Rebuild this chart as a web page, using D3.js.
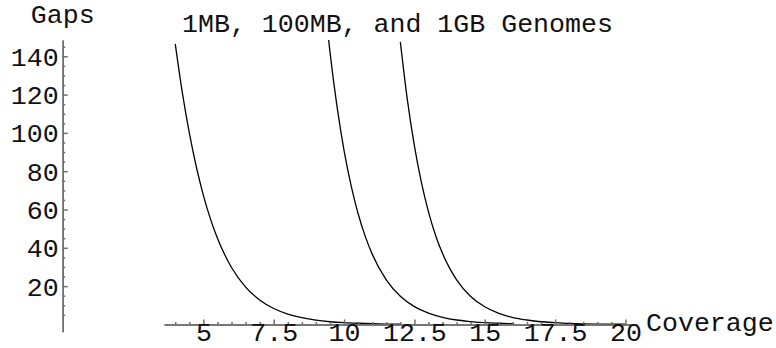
<!DOCTYPE html>
<html lang="en">
<head>
  <meta charset="UTF-8">
  <title>Gaps vs Coverage</title>
  <style>
    html, body { margin: 0; padding: 0; background: #fff; }
    svg { display: block; }
    text { font-family: "Liberation Mono", "Courier New", monospace; fill: #111; }
  </style>
</head>
<body>
  <div id="main"></div>
  <script src="https://d3js.org/d3.v7.min.js"></script>
  <script>
    // data
    const title = '1MB, 100MB, and 1GB Genomes'
    const xLabel = 'Coverage'
    const yLabel = 'Gaps'
    const xTickValues = [5, 7.5, 10, 12.5, 15, 17.5, 20]
    const yTickValues = [20, 40, 60, 80, 100, 120, 140]

    const coverage1MB = [4, 4.25, 4.5, 4.75, 5, 5.25, 5.5, 5.75, 6, 6.5, 7, 7.5, 8, 8.5, 9, 9.5, 10, 10.5, 11, 11.5, 12]
    const gaps1MB = [146.5, 121.2, 100.0, 82.2, 67.4, 55.1, 45.0, 36.6, 29.7, 19.5, 12.8, 8.3, 5.4, 3.5, 2.2, 1.4, 0.9, 0.6, 0.4, 0.2, 0.1]

    const coverage100MB = [9, 9.25, 9.5, 9.75, 10, 10.25, 10.5, 10.75, 11, 11.5, 12, 12.5, 13, 13.5, 14, 14.5, 15, 15.5, 16]
    const gaps100MB = [222.1, 177.8, 142.2, 113.7, 90.8, 72.5, 57.8, 46.1, 36.7, 23.3, 14.7, 9.3, 5.9, 3.7, 2.3, 1.5, 0.9, 0.6, 0.4]

    const coverage1GB = [12, 12.25, 12.5, 12.75, 13, 13.25, 13.5, 13.75, 14, 14.5, 15, 15.5, 16, 16.5, 17, 17.5, 18, 18.5, 19, 19.5, 20]
    const gaps1GB = [147.5, 117.2, 93.2, 74.0, 58.8, 46.6, 37.0, 29.4, 23.3, 14.6, 9.2, 5.8, 3.6, 2.3, 1.4, 0.9, 0.5, 0.3, 0.2, 0.1, 0.1]

    const series = [
      { name: '1MB', x: coverage1MB, y: gaps1MB },
      { name: '100MB', x: coverage100MB, y: gaps100MB },
      { name: '1GB', x: coverage1GB, y: gaps1GB }
    ]

    // container
    const [width, height] = [776, 348]
    const svg = d3.select('#main').append('svg')
      .attr('width', width)
      .attr('height', height)
      .attr('viewBox', `0 0 ${width} ${height}`)

    // scales
    const xScale = d3.scaleLinear().domain([3.6, 20.4]).range([164, 636.7])
    const yScale = d3.scaleLinear().domain([-3.8, 148.5]).range([331.7, 40])

    const axisColor = '#6e6e6e'
    const fontSize = 26.6
    const fontFamily = '"Liberation Mono", "Courier New", monospace'

    // clip curves to the plot range
    svg.append('clipPath').attr('id', 'clip')
      .append('rect')
      .attr('x', xScale(3.6)).attr('y', yScale(148.5))
      .attr('width', xScale(20.4) - xScale(3.6))
      .attr('height', yScale(-3.8) - yScale(148.5))

    // curves
    const line = d3.line()
      .x(d => xScale(d[0]))
      .y(d => yScale(d[1]))
      .curve(d3.curveMonotoneX)

    svg.append('g').attr('clip-path', 'url(#clip)')
      .selectAll('path')
      .data(series)
      .join('path')
      .attr('d', s => line(s.x.map((c, i) => [c, s.y[i]])))
      .attr('fill', 'none')
      .attr('stroke', '#000')
      .attr('stroke-width', 1.3)

    // x axis (at gaps = 0)
    const xMinor = d3.range(4, 20.01, 0.5).filter(v => !xTickValues.includes(v))
    const gx = svg.append('g').attr('transform', `translate(0,${yScale(0)})`)
    gx.append('g')
      .call(d3.axisBottom(xScale).tickValues(xMinor).tickFormat('').tickSizeInner(-2.5).tickSizeOuter(0))
    gx.append('g')
      .call(d3.axisBottom(xScale).tickValues(xTickValues).tickFormat(d => String(d)).tickSizeInner(-5).tickSizeOuter(0))
      .selectAll('text')
      .attr('y', 16.5)
      .attr('dy', 0)
      .style('font-size', `${fontSize}px`)
      .style('font-family', fontFamily)
      .attr('fill', '#111')
    gx.selectAll('.domain, line').attr('stroke', axisColor).attr('stroke-width', 1.5)

    // y axis (at coverage = 0)
    const yMinor = d3.range(5, 146, 5).filter(v => !yTickValues.includes(v))
    const gy = svg.append('g').attr('transform', `translate(${xScale(0)},0)`)
    gy.append('g')
      .call(d3.axisLeft(yScale).tickValues(yMinor).tickFormat('').tickSizeInner(-2.5).tickSizeOuter(0))
    gy.append('g')
      .call(d3.axisLeft(yScale).tickValues(yTickValues).tickSizeInner(-5).tickSizeOuter(0).tickPadding(4))
      .selectAll('text')
      .attr('dy', '0.34em')
      .style('font-size', `${fontSize}px`)
      .style('font-family', fontFamily)
      .attr('fill', '#111')
    gy.selectAll('.domain, line').attr('stroke', axisColor).attr('stroke-width', 1.5)

    // labels
    svg.append('text')
      .attr('x', xScale(0)).attr('y', 22.5)
      .attr('text-anchor', 'middle')
      .style('font-size', `${fontSize}px`)
      .text(yLabel)

    svg.append('text')
      .attr('x', 646).attr('y', 330.5)
      .style('font-size', `${fontSize}px`)
      .text(xLabel)

    svg.append('text')
      .attr('x', 182).attr('y', 32)
      .style('font-size', `${fontSize}px`)
      .text(title)
  </script>
</body>
</html>
